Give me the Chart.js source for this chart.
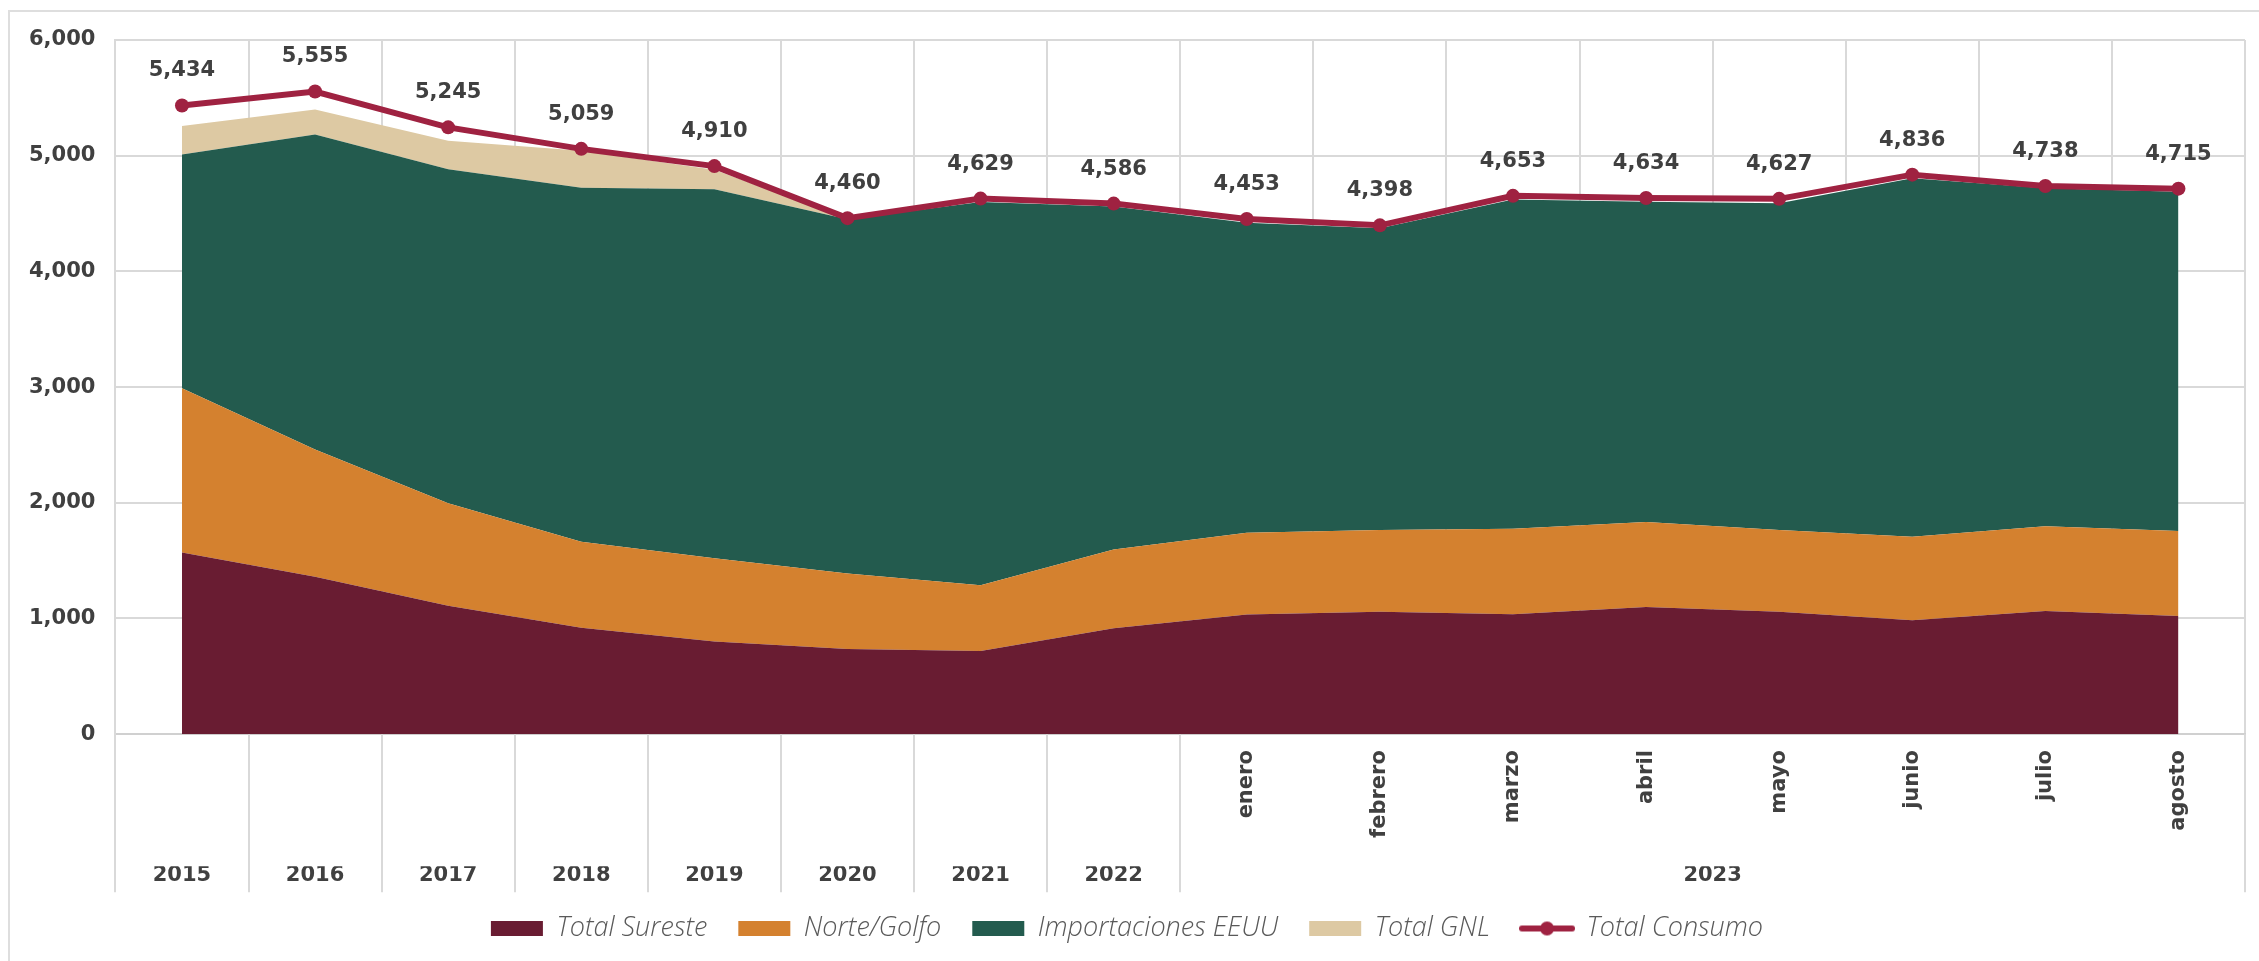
<!DOCTYPE html>
<html lang="es">
<head>
<meta charset="utf-8">
<title>Consumo de gas natural</title>
<script src="https://cdn.jsdelivr.net/npm/chart.js@4.4.1/dist/chart.umd.min.js"></script>
<style>
  html, body { margin: 0; padding: 0; background: #ffffff; overflow: hidden; }
  .marco { position: absolute; left: 8px; top: 10px; width: 2251px; height: 951px; border-top: 2px solid #dedede; border-left: 2px solid #dedede; }
  .grafica { position: absolute; left: 0; top: 0; width: 2259px; height: 961px; }
</style>
</head>
<body>
<div class="marco"></div>
<div class="grafica"><canvas id="consumo"></canvas></div>
<script>
// Categorias: anios completos y luego los meses de 2023
var anios = ['2015', '2016', '2017', '2018', '2019', '2020', '2021', '2022'];
var meses = ['enero', 'febrero', 'marzo', 'abril', 'mayo', 'junio', 'julio', 'agosto'];
var anioMeses = '2023';

// Series
var totalSureste = [1570, 1360, 1110, 920, 800, 735, 718, 915, 1035, 1058, 1037, 1100, 1058, 985, 1064, 1022];
var norteGolfo = [1420, 1100, 885, 743, 720, 654, 570, 680, 705, 706, 739, 733, 706, 721, 734, 733];
var importacionesEEUU = [2020, 2724, 2887, 3060, 3189, 3061, 3312, 2965, 2680, 2608, 2846, 2769, 2824, 3098, 2920, 2933];
var totalGNL = [246, 216, 247, 320, 170, 5, 0, 0, 0, 0, 0, 0, 0, 0, 0, 0];
var totalConsumo = [5434, 5555, 5245, 5059, 4910, 4460, 4629, 4586, 4453, 4398, 4653, 4634, 4627, 4836, 4738, 4715];

var categorias = anios.concat(meses);
var etiquetasAnio = anios.concat([anioMeses]);
var posicionesAnio = anios.map(function (a, i) { return i; }).concat([anios.length + (meses.length - 1) / 2]);

var gris = '#404040';
var rejilla = '#d9d9d9';
var colorConsumo = '#9f2241';
var fuenteEje = { family: 'DejaVu Sans', size: 21, weight: 'bold' };

// alto del eje de meses: las etiquetas giradas empiezan 16px bajo el eje
// (chart.js cuenta el padding dos veces al medir el eje)
var altoMeses = 132;
var medidor = document.createElement('canvas').getContext('2d');
medidor.font = 'bold 21px "DejaVu Sans"';
var anchoMes = Math.max.apply(null, meses.map(function (m) { return medidor.measureText(m).width; }));
var rellenoMeses = altoMeses - 16 - anchoMes;
var marcaMeses = 16 - rellenoMeses;

// marca de la leyenda para la linea (linea con punto)
function marcaLinea(color) {
    var c = document.createElement('canvas');
    c.width = 56; c.height = 16;
    var g = c.getContext('2d');
    g.strokeStyle = color; g.lineWidth = 6; g.lineCap = 'round';
    g.beginPath(); g.moveTo(3, 8); g.lineTo(53, 8); g.stroke();
    g.fillStyle = color;
    g.beginPath(); g.arc(28, 8, 7, 0, Math.PI * 2); g.fill();
    return c;
}
var marcaConsumo = marcaLinea(colorConsumo);

// etiquetas de valor sobre la linea de consumo
var etiquetasConsumo = {
    id: 'etiquetasConsumo',
    afterDatasetsDraw: function (chart) {
        var meta = chart.getDatasetMeta(4);
        var ctx = chart.ctx;
        ctx.save();
        ctx.font = 'bold 21px "DejaVu Sans"';
        ctx.fillStyle = gris;
        ctx.textAlign = 'center';
        ctx.textBaseline = 'alphabetic';
        meta.data.forEach(function (pt, i) {
            ctx.fillText(totalConsumo[i].toLocaleString('en-US'), pt.x, pt.y - 29);
        });
        ctx.restore();
    }
};

// lineas que separan los anios debajo del eje
var separadores = {
    id: 'separadores',
    afterDraw: function (chart) {
        var x = chart.scales.x;
        var area = chart.chartArea;
        var ctx = chart.ctx;
        var cortes = [];
        for (var i = 0; i <= anios.length; i++) { cortes.push(i - 0.5); }
        cortes.push(categorias.length - 0.5);
        ctx.save();
        ctx.strokeStyle = rejilla;
        ctx.lineWidth = 2;
        cortes.forEach(function (c) {
            var px = Math.round(x.getPixelForValue(c));
            ctx.beginPath();
            ctx.moveTo(px, area.bottom);
            ctx.lineTo(px, area.bottom + 158);
            ctx.stroke();
        });
        ctx.restore();
    }
};

function area(nombre, datos, color, relleno) {
    return {
        label: nombre,
        data: datos,
        backgroundColor: color,
        borderColor: color,
        borderWidth: 0,
        pointRadius: 0,
        pointStyle: 'rect',
        fill: relleno,
        tension: 0,
        stack: 'fuentes',
        order: 1
    };
}

new Chart(document.getElementById('consumo'), {
    type: 'line',
    data: {
        labels: categorias,
        datasets: [
            area('Total Sureste', totalSureste, '#691c32', 'origin'),
            area('Norte/Golfo', norteGolfo, '#d4812f', '-1'),
            area('Importaciones EEUU', importacionesEEUU, '#235b4e', '-1'),
            area('Total GNL', totalGNL, '#ddc9a3', '-1'),
            {
                label: 'Total Consumo',
                data: totalConsumo,
                borderColor: colorConsumo,
                backgroundColor: colorConsumo,
                borderWidth: 6,
                pointRadius: 7,
                pointBorderWidth: 0,
                pointBackgroundColor: colorConsumo,
                fill: false,
                tension: 0,
                stack: 'total',
                order: 0
            }
        ]
    },
    options: {
        responsive: true,
        maintainAspectRatio: false,
        animation: false,
        events: [],
        layout: { padding: { left: 9, right: 14, top: 40, bottom: 9 } },
        scales: {
            x: {
                type: 'category',
                offset: true,
                weight: 0,
                grid: {
                    offset: true,
                    color: rejilla,
                    lineWidth: 2,
                    drawTicks: true,
                    tickLength: marcaMeses,
                    tickColor: 'rgba(0,0,0,0)'
                },
                border: { color: '#d0d0d0', width: 2 },
                ticks: {
                    autoSkip: false,
                    minRotation: 90,
                    maxRotation: 90,
                    padding: rellenoMeses,
                    color: gris,
                    font: fuenteEje,
                    callback: function (v, i) { return i < anios.length ? '' : categorias[i]; }
                }
            },
            anios: {
                type: 'linear',
                axis: 'x',
                position: 'bottom',
                weight: 1,
                min: -0.5,
                max: categorias.length - 0.5,
                grid: { display: false, drawTicks: false },
                border: { display: false },
                afterBuildTicks: function (scale) {
                    scale.ticks = posicionesAnio.map(function (p) { return { value: p }; });
                },
                ticks: {
                    autoSkip: false,
                    maxRotation: 0,
                    padding: 0,
                    color: gris,
                    font: { family: 'DejaVu Sans', size: 21, weight: 'bold', lineHeight: 0.85 },
                    callback: function (v, i) { return etiquetasAnio[i]; }
                }
            },
            y: {
                stacked: true,
                min: 0,
                max: 6000,
                grid: { color: rejilla, lineWidth: 2, drawTicks: false },
                border: { color: rejilla, width: 2 },
                ticks: {
                    stepSize: 1000,
                    padding: 20,
                    color: gris,
                    font: fuenteEje,
                    callback: function (v) { return v.toLocaleString('en-US'); }
                }
            }
        },
        plugins: {
            tooltip: { enabled: false },
            legend: {
                position: 'bottom',
                labels: {
                    usePointStyle: true,
                    pointStyleWidth: 52,
                    boxHeight: 15,
                    padding: 31,
                    color: '#595959',
                    font: { family: 'Open Sans', size: 27, style: 'italic', weight: '300' },
                    sort: function (a, b) { return a.datasetIndex - b.datasetIndex; },
                    generateLabels: function (chart) {
                        return Chart.defaults.plugins.legend.labels.generateLabels(chart).map(function (item) {
                            if (item.datasetIndex === 4) { item.pointStyle = marcaConsumo; }
                            return item;
                        });
                    }
                }
            }
        }
    },
    plugins: [etiquetasConsumo, separadores]
});
</script>
</body>
</html>
